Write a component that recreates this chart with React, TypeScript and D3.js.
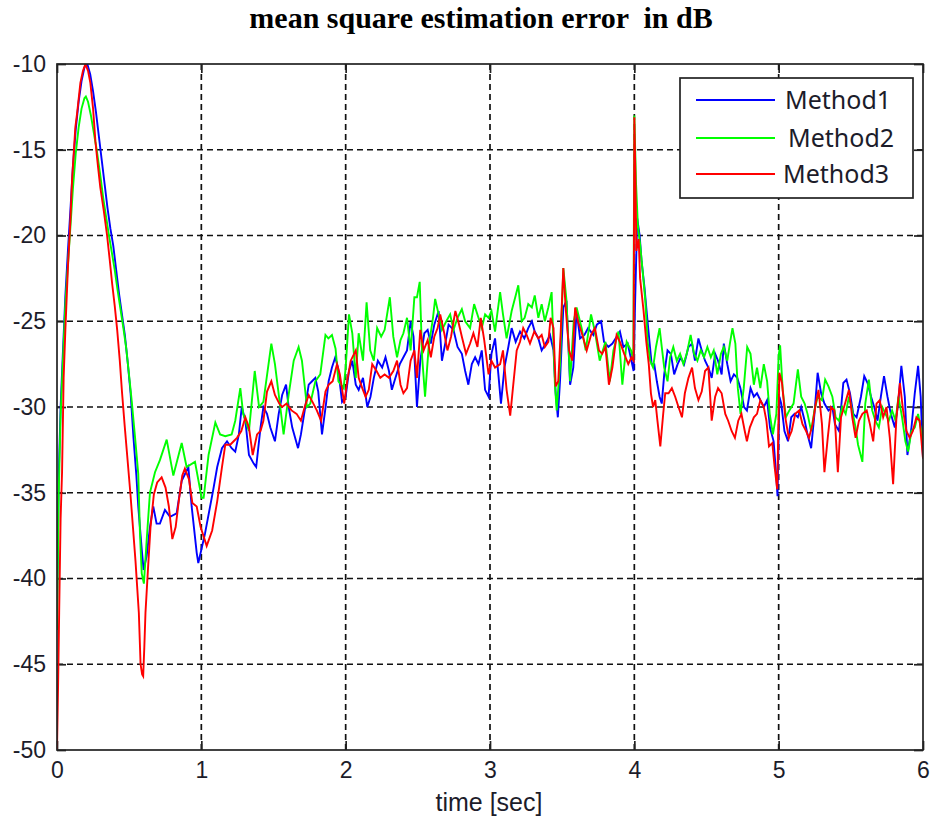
import React, { useRef, useEffect } from 'react';
import * as d3 from 'd3';

// axis ticks
const xTicks = [0, 1, 2, 3, 4, 5, 6];
const yTicks = [-50, -45, -40, -35, -30, -25, -20, -15, -10];

const seriesNames = ['Method1', 'Method2', 'Method3'];
const seriesColors = ['#0000ff', '#00ff00', '#ff0000'];

// [time (sec), error (dB)]
const method1: [number, number][] = [
  [0, -42], [0.012, -34], [0.025, -30], [0.04, -27], [0.058, -23.5], [0.075, -21], [0.093, -18.5], [0.11, -16],
  [0.13, -13.8], [0.15, -12.2], [0.17, -11], [0.19, -10.2], [0.21, -10], [0.23, -10.6], [0.25, -11.6], [0.27, -12.8],
  [0.29, -14.2], [0.31, -15.6], [0.33, -17], [0.35, -18.4], [0.37, -19.6], [0.39, -20.6], [0.41, -22], [0.43, -23.4],
  [0.45, -24.6], [0.47, -25.8], [0.49, -27.4], [0.51, -29.2], [0.53, -31.8], [0.55, -34], [0.563, -35.8], [0.587, -38.3],
  [0.6, -39.5], [0.621, -38.7], [0.644, -37], [0.667, -35.8], [0.69, -36.8], [0.713, -36.8], [0.748, -36], [0.783, -36.4],
  [0.829, -36.2], [0.864, -34.3], [0.91, -33.5], [0.933, -35.8], [0.968, -38.5], [0.979, -39.1], [1.025, -37.4], [1.083, -34.8],
  [1.11, -33.5], [1.143, -32.4], [1.178, -32], [1.21, -32.4], [1.235, -32.6], [1.26, -31.6], [1.28, -30], [1.305, -30.8],
  [1.33, -32.8], [1.363, -33.3], [1.38, -33.5], [1.41, -31.2], [1.43, -30], [1.455, -30.4], [1.478, -31.2], [1.51, -32],
  [1.536, -30.4], [1.56, -29.3], [1.587, -28.7], [1.605, -30], [1.63, -31.2], [1.67, -32.4], [1.69, -31.6], [1.72, -30],
  [1.744, -28.7], [1.767, -28.5], [1.79, -28.3], [1.81, -29.1], [1.836, -31.6], [1.864, -29.8], [1.882, -28.5], [1.905, -27.7],
  [1.928, -27.1], [1.947, -27.7], [1.975, -29.7], [2.0, -29.4], [2.023, -27.9], [2.046, -27.3], [2.07, -28.7], [2.09, -29],
  [2.12, -28.3], [2.15, -30], [2.172, -29.4], [2.195, -28.3], [2.223, -27.3], [2.253, -27.7], [2.276, -27.1], [2.3, -27.9],
  [2.32, -29], [2.345, -28.3], [2.375, -27.5], [2.4, -27.1], [2.425, -26.7], [2.45, -25], [2.47, -25.9], [2.494, -30],
  [2.517, -27.3], [2.545, -25.7], [2.568, -25.5], [2.59, -26.3], [2.614, -25.2], [2.644, -24.4], [2.667, -27.3], [2.69, -26.3],
  [2.713, -25.2], [2.747, -25.5], [2.775, -26.5], [2.805, -26.9], [2.828, -27.9], [2.85, -28.7], [2.874, -27.5], [2.897, -27.1],
  [2.92, -27.5], [2.943, -26.7], [2.966, -29], [2.99, -29.4], [3.01, -26.9], [3.035, -26], [3.058, -28.1], [3.076, -29.8],
  [3.1, -27.7], [3.127, -26.5], [3.15, -25.4], [3.178, -26.2], [3.208, -25.6], [3.238, -26], [3.265, -25.4], [3.29, -25],
  [3.31, -25.6], [3.335, -26], [3.358, -26.7], [3.386, -26.3], [3.416, -25.8], [3.44, -26.7], [3.455, -29.2], [3.47, -30.6],
  [3.485, -28.5], [3.508, -24.2], [3.53, -23.8], [3.555, -28.7], [3.577, -27.7], [3.6, -24.4], [3.624, -26], [3.654, -25.8],
  [3.68, -25.4], [3.716, -25.8], [3.74, -25.2], [3.77, -25], [3.79, -26.2], [3.82, -26.5], [3.848, -26.3], [3.87, -26],
  [3.9, -25.6], [3.924, -26.5], [3.954, -26.3], [3.98, -27.3], [3.995, -27.9], [4.005, -24], [4.02, -19], [4.037, -20],
  [4.05, -21.5], [4.07, -23], [4.087, -24.6], [4.105, -26.2], [4.12, -27.5], [4.138, -27.5], [4.156, -28.5], [4.175, -29.4],
  [4.19, -29.8], [4.207, -28.1], [4.23, -26.7], [4.253, -26.9], [4.276, -28.1], [4.3, -27.5], [4.322, -27.1], [4.345, -27.5],
  [4.375, -26.5], [4.4, -26.3], [4.42, -27.3], [4.444, -26], [4.467, -26.7], [4.49, -27.3], [4.513, -27.7], [4.536, -28.3],
  [4.56, -26.9], [4.58, -27.3], [4.605, -28.1], [4.62, -26.3], [4.644, -27.5], [4.667, -28.5], [4.69, -28.1], [4.713, -28.3],
  [4.735, -28.9], [4.76, -30], [4.78, -30.2], [4.805, -28.9], [4.828, -29.4], [4.85, -29.2], [4.873, -29.6], [4.897, -30],
  [4.92, -29.6], [4.94, -31.2], [4.965, -32], [4.984, -34.1], [4.992, -35.2], [5.005, -29.4], [5.018, -29.8], [5.04, -31.4],
  [5.065, -32], [5.087, -30.6], [5.11, -30.4], [5.133, -30.6], [5.156, -30], [5.18, -30.8], [5.2, -31.6], [5.225, -32.4],
  [5.248, -30.4], [5.27, -28], [5.294, -29.2], [5.317, -29.8], [5.345, -30.2], [5.372, -30], [5.39, -31], [5.418, -31.4],
  [5.448, -28.6], [5.47, -28.4], [5.494, -29.2], [5.517, -30.4], [5.54, -30.6], [5.57, -29.4], [5.593, -28.2], [5.616, -28.6],
  [5.64, -29.4], [5.662, -30], [5.685, -30.8], [5.708, -29.4], [5.73, -28.2], [5.754, -29.4], [5.777, -30.4], [5.805, -31.2],
  [5.828, -29.8], [5.85, -27.6], [5.874, -29.4], [5.892, -32.8], [5.92, -31.2], [5.943, -29.2], [5.966, -27.6], [5.984, -29.4],
  [6.0, -33],
];

const method2: [number, number][] = [
  [0, -43], [0.012, -35], [0.025, -30.5], [0.04, -27.5], [0.058, -24], [0.075, -21.8], [0.093, -19.5], [0.11, -17.3],
  [0.13, -15.2], [0.15, -13.7], [0.17, -12.6], [0.19, -12], [0.2, -11.9], [0.215, -12.2], [0.235, -13], [0.255, -14],
  [0.275, -15], [0.3, -16.5], [0.32, -17.8], [0.34, -18.9], [0.36, -20], [0.38, -21], [0.4, -22], [0.42, -23.2],
  [0.44, -24.3], [0.46, -25.4], [0.48, -26.6], [0.5, -28.2], [0.517, -29.6], [0.54, -31.7], [0.563, -33.9], [0.575, -37.4],
  [0.587, -39.7], [0.602, -40.3], [0.621, -37.8], [0.644, -35], [0.679, -33.8], [0.713, -33.1], [0.76, -31.9], [0.806, -34],
  [0.864, -32.1], [0.898, -33.5], [0.956, -33.2], [1.002, -35.3], [1.016, -35.3], [1.05, -32.8], [1.097, -30.9], [1.13, -31.6],
  [1.166, -31.7], [1.21, -31.6], [1.235, -30.8], [1.27, -28.9], [1.29, -30.4], [1.33, -31.4], [1.37, -27.9], [1.4, -30],
  [1.43, -29.7], [1.485, -26.3], [1.51, -27.5], [1.547, -30], [1.57, -31.6], [1.605, -29.3], [1.64, -27.3], [1.674, -26.5],
  [1.697, -27.3], [1.732, -30], [1.755, -29.8], [1.79, -28.5], [1.824, -28.1], [1.86, -25.8], [1.88, -26], [1.905, -25.8],
  [1.93, -26.6], [1.95, -28.5], [1.986, -28.9], [2.0, -27.7], [2.023, -24.6], [2.046, -25.7], [2.07, -28.3], [2.09, -25.7],
  [2.12, -27.3], [2.145, -23.9], [2.17, -26.7], [2.195, -27.3], [2.218, -25.4], [2.246, -25.9], [2.27, -25.5], [2.306, -23.6],
  [2.33, -25.9], [2.356, -27.1], [2.38, -26.1], [2.4, -25.7], [2.425, -24.8], [2.45, -26.7], [2.476, -23.6], [2.494, -23.6],
  [2.513, -22.7], [2.53, -27.1], [2.55, -29.4], [2.575, -26.5], [2.605, -24.8], [2.62, -23.7], [2.644, -24.6], [2.667, -25.5],
  [2.697, -25], [2.724, -24.6], [2.747, -25.5], [2.775, -24.8], [2.805, -24.3], [2.828, -25], [2.862, -25.4], [2.89, -24],
  [2.92, -24.8], [2.943, -25.4], [2.966, -24.6], [2.99, -24.8], [3.01, -24.4], [3.035, -25.6], [3.07, -23.3], [3.09, -24.6],
  [3.115, -26], [3.15, -24.4], [3.178, -23.5], [3.196, -22.9], [3.22, -25], [3.24, -24.8], [3.265, -24], [3.29, -24.2],
  [3.31, -23.5], [3.335, -24.8], [3.358, -24], [3.38, -25], [3.404, -24.2], [3.427, -23.3], [3.45, -28.7], [3.462, -30.2],
  [3.485, -27.5], [3.508, -21.9], [3.53, -23.8], [3.555, -28.5], [3.58, -25], [3.6, -24.2], [3.635, -25.4], [3.663, -26.7],
  [3.7, -24.6], [3.727, -25.6], [3.76, -27.3], [3.8, -26.2], [3.83, -28.5], [3.855, -26.7], [3.89, -25.6], [3.917, -28.7],
  [3.947, -26.2], [3.977, -26.7], [3.993, -27.3], [4.0, -13], [4.012, -17], [4.025, -19.5], [4.04, -20.5], [4.06, -22.3],
  [4.076, -23.8], [4.092, -26.2], [4.11, -27.3], [4.13, -27.7], [4.15, -26.5], [4.175, -25.4], [4.19, -26.5], [4.207, -27.7],
  [4.23, -28.5], [4.248, -27.1], [4.27, -26.5], [4.294, -27.3], [4.317, -26.9], [4.34, -27.5], [4.363, -26.9], [4.39, -25.8],
  [4.414, -26.9], [4.437, -27.3], [4.46, -26.7], [4.483, -27.1], [4.506, -26.5], [4.53, -27.1], [4.55, -26.7], [4.575, -28.1],
  [4.6, -26.9], [4.62, -26.5], [4.644, -27.3], [4.662, -26.3], [4.68, -25.4], [4.7, -26.3], [4.717, -28.9], [4.736, -30.4],
  [4.758, -28.9], [4.782, -26.5], [4.805, -26.9], [4.828, -28.7], [4.85, -27.7], [4.873, -28.9], [4.897, -27.5], [4.92, -28.5],
  [4.938, -30.4], [4.96, -31.6], [4.984, -30.4], [5.0, -27], [5.01, -26.4], [5.028, -29], [5.05, -30.6], [5.074, -30.2],
  [5.103, -29.8], [5.133, -27.8], [5.156, -29.4], [5.18, -29.8], [5.2, -30.4], [5.225, -31.4], [5.248, -30.2], [5.27, -29.4],
  [5.3, -29.6], [5.322, -28.4], [5.345, -28.8], [5.372, -29.4], [5.395, -30.6], [5.418, -30.8], [5.44, -30], [5.464, -30.4],
  [5.487, -29.4], [5.51, -30.2], [5.533, -31.2], [5.55, -32.2], [5.58, -33.2], [5.6, -29.8], [5.625, -28.4], [5.648, -30.2],
  [5.67, -30.8], [5.694, -31.2], [5.717, -30], [5.74, -30.4], [5.763, -30.8], [5.786, -30.2], [5.81, -30.8], [5.83, -29.4],
  [5.855, -30.6], [5.878, -32], [5.897, -32.6], [5.92, -31.4], [5.943, -31.2], [5.966, -30.4], [5.984, -31.2], [6.0, -32],
];

const method3: [number, number][] = [
  [0, -50], [0.008, -46], [0.015, -42], [0.025, -36.5], [0.035, -33.8], [0.046, -28.3], [0.058, -25.5], [0.076, -21.8],
  [0.093, -19.1], [0.104, -16.8], [0.116, -15.2], [0.127, -13.7], [0.139, -12.9], [0.162, -11.1], [0.18, -10.4], [0.197, -10],
  [0.215, -10.4], [0.231, -11.1], [0.25, -12.6], [0.266, -14.5], [0.283, -15.9], [0.3, -17.2], [0.325, -18.6], [0.347, -20],
  [0.365, -21.4], [0.382, -22.8], [0.4, -24.1], [0.417, -25.5], [0.435, -27.3], [0.451, -29.2], [0.468, -31], [0.486, -32.8],
  [0.509, -35.1], [0.527, -37.1], [0.544, -39], [0.567, -42], [0.579, -45], [0.59, -45.6], [0.597, -45.7], [0.605, -44],
  [0.613, -42], [0.63, -39.5], [0.648, -37], [0.671, -35.1], [0.694, -34.4], [0.725, -34.1], [0.752, -34.7], [0.775, -35.8],
  [0.799, -37.7], [0.822, -37], [0.845, -35.4], [0.868, -34], [0.886, -33.6], [0.914, -34.2], [0.938, -35.6], [0.968, -35.8],
  [0.995, -37], [1.037, -38.1], [1.075, -37.2], [1.11, -35.5], [1.143, -33.5], [1.166, -32.2], [1.2, -32.2], [1.224, -32],
  [1.247, -31.8], [1.277, -31.4], [1.305, -30.6], [1.33, -31.2], [1.356, -32.8], [1.386, -31.6], [1.41, -31.4], [1.43, -30.8],
  [1.455, -29.1], [1.485, -28.5], [1.51, -29.3], [1.54, -29.8], [1.56, -30], [1.59, -29.8], [1.625, -30.2], [1.66, -30.4],
  [1.69, -30.8], [1.716, -30], [1.744, -29.3], [1.77, -29.7], [1.8, -30.2], [1.83, -30.8], [1.86, -29.1], [1.882, -28.7],
  [1.91, -28.5], [1.94, -27.5], [1.96, -28.1], [1.99, -29.8], [2.01, -28.5], [2.035, -27.3], [2.07, -26.7], [2.09, -28.3],
  [2.115, -28.9], [2.138, -29.4], [2.16, -29], [2.184, -27.5], [2.214, -27.9], [2.24, -28.3], [2.27, -28.1], [2.3, -28.3],
  [2.33, -27.9], [2.356, -27.3], [2.38, -28.7], [2.4, -29.2], [2.425, -28.9], [2.45, -27.3], [2.476, -26.7], [2.494, -28.3],
  [2.517, -25.5], [2.54, -26.7], [2.568, -26.1], [2.59, -27.1], [2.614, -25.9], [2.637, -25.4], [2.655, -24.6], [2.683, -25.7],
  [2.705, -26.7], [2.73, -25.9], [2.76, -24.4], [2.78, -25], [2.805, -25.9], [2.834, -26.9], [2.862, -26.3], [2.885, -25.7],
  [2.913, -26.5], [2.936, -24.8], [2.96, -26.1], [2.99, -28.1], [3.01, -27.3], [3.035, -27.7], [3.07, -27.5], [3.09, -26.7],
  [3.115, -29], [3.14, -30.5], [3.16, -28.8], [3.185, -26.7], [3.208, -26.2], [3.23, -25.4], [3.254, -25.8], [3.277, -26.3],
  [3.307, -25.6], [3.335, -26], [3.358, -25.8], [3.38, -26.5], [3.404, -26.2], [3.42, -24.8], [3.44, -25.4], [3.455, -28.8],
  [3.473, -28.5], [3.49, -25.6], [3.508, -21.9], [3.524, -24.2], [3.548, -26.7], [3.57, -27.3], [3.59, -24.2], [3.61, -25],
  [3.64, -25.8], [3.67, -26.7], [3.7, -25.8], [3.727, -25.4], [3.755, -26.7], [3.777, -26.9], [3.8, -26.5], [3.824, -28.7],
  [3.848, -27.7], [3.877, -25.8], [3.9, -26.2], [3.93, -26.9], [3.958, -27.5], [3.98, -27.1], [3.995, -27.3], [4.0, -13.1],
  [4.007, -16.3], [4.014, -20.9], [4.03, -20.2], [4.04, -22.5], [4.064, -24.4], [4.083, -26.2], [4.1, -27.5], [4.115, -29.2],
  [4.13, -30], [4.145, -29.6], [4.16, -30.8], [4.18, -32.3], [4.2, -30.4], [4.214, -29.2], [4.237, -29.2], [4.26, -28.9],
  [4.283, -29.4], [4.306, -30], [4.33, -30.6], [4.35, -29.2], [4.375, -28.3], [4.4, -27.7], [4.42, -28.9], [4.444, -29.6],
  [4.467, -29.1], [4.49, -27.9], [4.513, -27.7], [4.536, -30.8], [4.56, -29.4], [4.58, -28.9], [4.605, -29.2], [4.63, -30.4],
  [4.65, -30.8], [4.674, -31.4], [4.697, -31.8], [4.72, -30.8], [4.742, -30.4], [4.765, -31.4], [4.78, -32], [4.8, -31.2],
  [4.828, -30.6], [4.85, -30.4], [4.873, -29.6], [4.897, -30], [4.915, -30.8], [4.933, -32.3], [4.956, -32.1], [4.972, -33.5],
  [4.99, -34.8], [5.005, -28], [5.023, -28.6], [5.046, -30.6], [5.07, -31.8], [5.09, -31.4], [5.115, -30.4], [5.142, -30.2],
  [5.165, -31], [5.19, -31.4], [5.21, -31.8], [5.235, -31], [5.257, -29.8], [5.276, -29], [5.3, -31], [5.317, -33.8],
  [5.34, -31.8], [5.363, -30], [5.386, -30.2], [5.41, -33.8], [5.432, -30.6], [5.46, -29.8], [5.487, -29], [5.51, -30.6],
  [5.533, -31.8], [5.556, -30.8], [5.58, -30.4], [5.61, -30.2], [5.632, -31], [5.655, -32], [5.678, -29.8], [5.7, -29.6],
  [5.724, -30.6], [5.747, -30], [5.77, -31.8], [5.793, -34.5], [5.816, -30.6], [5.84, -28.6], [5.862, -30.2], [5.885, -31.4],
  [5.908, -31.8], [5.93, -31.4], [5.954, -30.6], [5.977, -30.8], [6.0, -33],
];

const allSeries = [method1, method2, method3];

const App = () => {
  const chart = useRef<HTMLDivElement | null>(null);

  useEffect(() => {
    d3.select(chart.current).selectAll('*').remove();

    // page is 935x823, axes box from (57,64) to (923,750)
    const margin = { top: 64, bottom: 73, left: 57, right: 12 };
    const width = 935 - margin.left - margin.right;
    const height = 823 - margin.top - margin.bottom;

    const root = d3
      .select(chart.current)
      .append('svg')
      .attr('width', 935)
      .attr('height', 823)
      .style('display', 'block')
      .style('background', '#fff');

    // title
    root
      .append('text')
      .attr('x', 481)
      .attr('y', 28)
      .attr('text-anchor', 'middle')
      .style('font-family', '"Liberation Serif", "Times New Roman", serif')
      .style('font-weight', 'bold')
      .style('font-size', '30px')
      .style('white-space', 'pre')
      .attr('fill', '#000')
      .text('mean square estimation error  in dB');

    const svg = root.append('g').attr('transform', `translate(${margin.left}, ${margin.top})`);

    const x = d3.scaleLinear().domain([0, 6]).range([0, width]);
    const y = d3.scaleLinear().domain([-50, -10]).range([height, 0]);

    // dashed grid
    const grid = svg.append('g');
    grid
      .selectAll('line.vx')
      .data(xTicks.slice(1, -1))
      .enter()
      .append('line')
      .attr('x1', (d) => x(d))
      .attr('x2', (d) => x(d))
      .attr('y1', 0)
      .attr('y2', height);
    grid
      .selectAll('line.hy')
      .data(yTicks.slice(1, -1))
      .enter()
      .append('line')
      .attr('x1', 0)
      .attr('x2', width)
      .attr('y1', (d) => y(d))
      .attr('y2', (d) => y(d));
    grid
      .selectAll('line')
      .attr('stroke', '#111')
      .attr('stroke-width', 1.7)
      .attr('stroke-dasharray', '6,4');

    // axes with inward ticks on all four sides
    const tickFont = '"Liberation Sans", Arial, sans-serif';
    const fmt = (d: d3.NumberValue) => `${d}`;
    const xAxis = svg
      .append('g')
      .attr('transform', `translate(0, ${height})`)
      .call(d3.axisBottom(x).tickValues(xTicks).tickSize(-9).tickPadding(12).tickFormat(fmt));
    const yAxis = svg
      .append('g')
      .call(d3.axisLeft(y).tickValues(yTicks).tickSize(-9).tickPadding(11).tickFormat(fmt));
    svg.append('g').call(d3.axisTop(x).tickValues(xTicks).tickSize(-9).tickFormat(() => ''));
    svg
      .append('g')
      .attr('transform', `translate(${width}, 0)`)
      .call(d3.axisRight(y).tickValues(yTicks).tickSize(-9).tickFormat(() => ''));

    svg.selectAll('.domain').remove();
    svg.selectAll('.tick line').attr('stroke', '#222').attr('stroke-width', 1.7);
    [xAxis, yAxis].forEach((a) =>
      a
        .selectAll('text')
        .style('font-family', tickFont)
        .style('font-size', '23px')
        .attr('fill', '#1c1c2a')
    );

    // data lines
    svg
      .append('clipPath')
      .attr('id', 'plot-clip')
      .append('rect')
      .attr('width', width)
      .attr('height', height);

    const line = d3
      .line<[number, number]>()
      .x((d) => x(d[0]))
      .y((d) => y(d[1]));

    svg
      .append('g')
      .attr('clip-path', 'url(#plot-clip)')
      .selectAll('path')
      .data(allSeries)
      .enter()
      .append('path')
      .attr('d', (d) => line(d))
      .attr('fill', 'none')
      .attr('stroke', (d, i) => seriesColors[i])
      .attr('stroke-width', 1.9)
      .attr('stroke-linejoin', 'miter');

    // axes box
    svg
      .append('rect')
      .attr('width', width)
      .attr('height', height)
      .attr('fill', 'none')
      .attr('stroke', '#222')
      .attr('stroke-width', 1.7);

    // x label
    svg
      .append('text')
      .attr('x', 432)
      .attr('y', height + 61)
      .attr('text-anchor', 'middle')
      .style('font-family', tickFont)
      .style('font-size', '25px')
      .attr('fill', '#1c1c2a')
      .text('time [sec]');

    // legend
    const legend = root.append('g').attr('transform', 'translate(680, 78)');
    legend
      .append('rect')
      .attr('width', 233)
      .attr('height', 120)
      .attr('fill', '#fff')
      .attr('stroke', '#222')
      .attr('stroke-width', 1.7);
    const legendRows = [22, 60, 96];
    const textX = [105, 108, 103];
    seriesNames.forEach((name, i) => {
      legend
        .append('line')
        .attr('x1', 16)
        .attr('x2', 95)
        .attr('y1', legendRows[i])
        .attr('y2', legendRows[i])
        .attr('stroke', seriesColors[i])
        .attr('stroke-width', 1.9);
      legend
        .append('text')
        .attr('x', textX[i])
        .attr('y', legendRows[i] + 9)
        .style('font-family', '"Noto Sans", "Open Sans", sans-serif')
        .style('font-size', '25px')
        .attr('fill', '#1c1c2a')
        .text(name);
    });
  }, []);

  return <div ref={chart} style={{ position: 'absolute', left: 0, top: 0 }}></div>;
};

export default App;
